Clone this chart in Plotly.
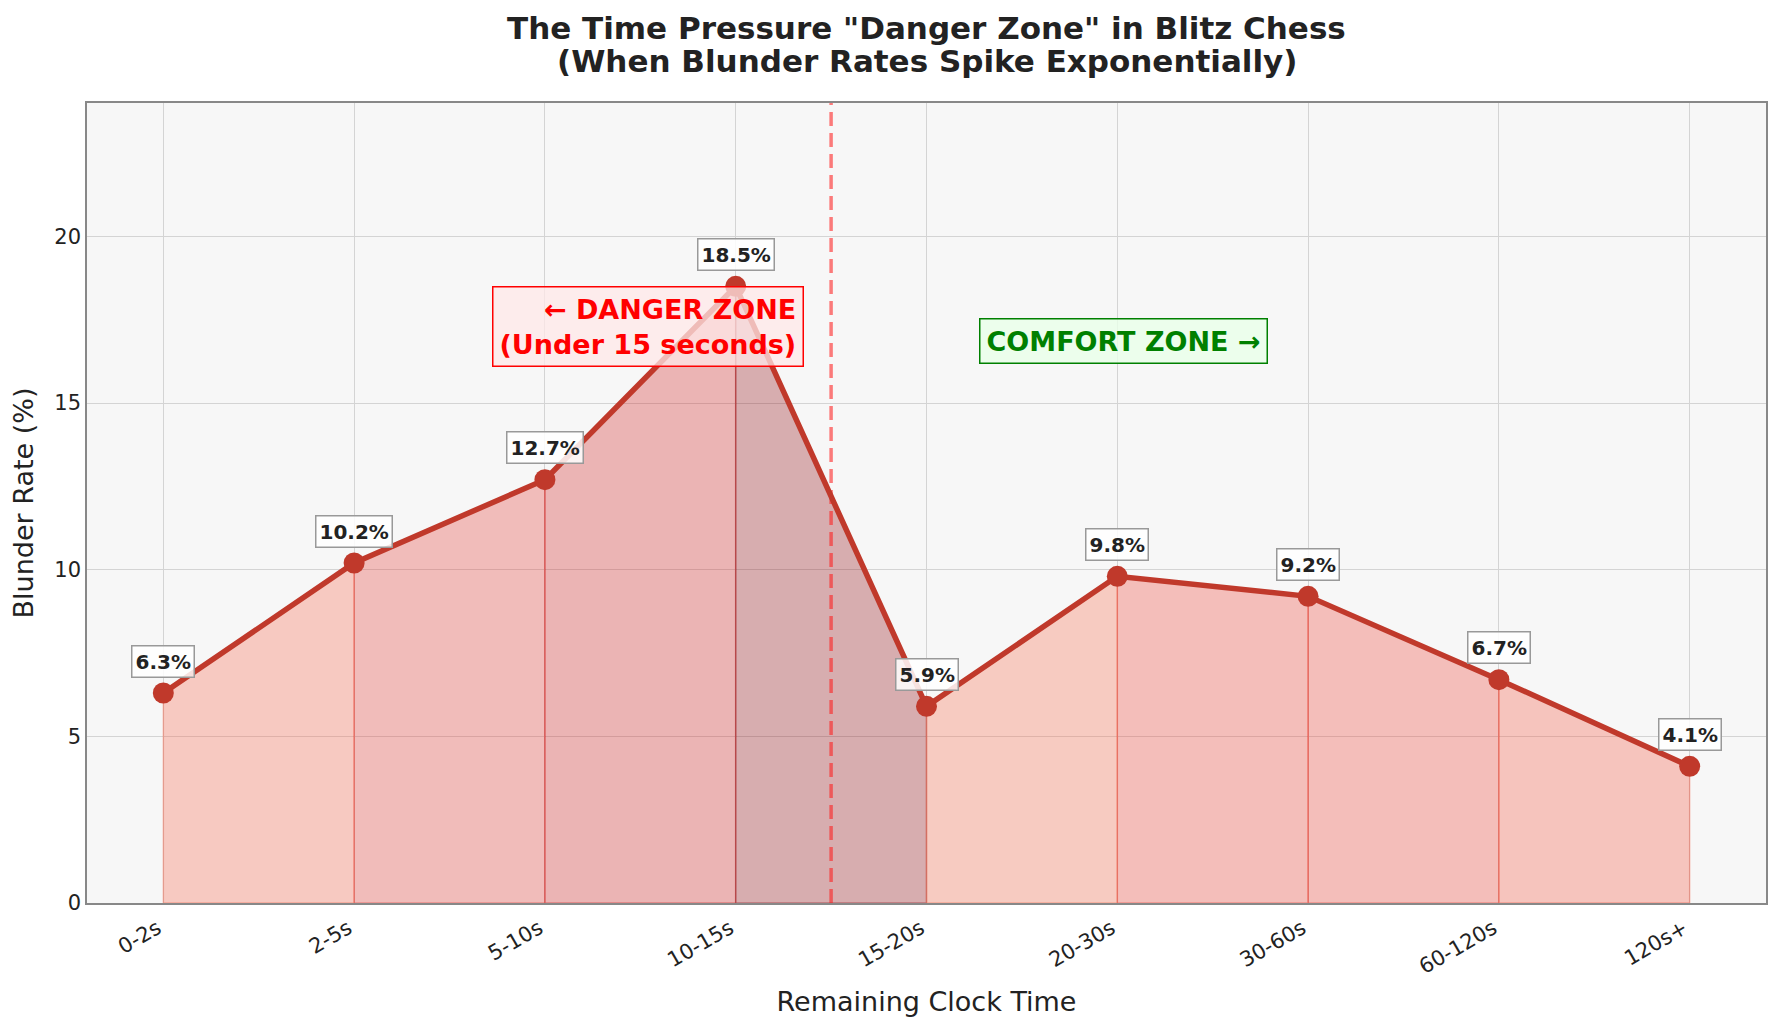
import plotly.graph_objects as go

# Data
time_buckets = ['0-2s', '2-5s', '5-10s', '10-15s', '15-20s', '20-30s', '30-60s', '60-120s', '120s+']
blunder_rate = [6.3, 10.2, 12.7, 18.5, 5.9, 9.8, 9.2, 6.7, 4.1]
danger_cutoff = 3.5  # between "10-15s" and "15-20s"

# per-segment fill colours (alpha applied below)
segment_colors = [(247, 97, 70), (230, 54, 47), (207, 27, 27), (144, 4, 10),
                  (250, 104, 71), (237, 61, 46), (237, 61, 46), (244, 80, 57)]

xs = list(range(len(time_buckets)))
font = "DejaVu Sans"

fig = go.Figure()

# filled segments under the curve
for i in range(len(xs) - 1):
    r, g, b = segment_colors[i]
    fig.add_trace(go.Scatter(
        x=[xs[i], xs[i], xs[i + 1], xs[i + 1], xs[i]],
        y=[0, blunder_rate[i], blunder_rate[i + 1], 0, 0],
        mode='lines',
        fill='toself',
        fillcolor=f'rgba({r},{g},{b},0.3)',
        line=dict(color=f'rgba({r},{g},{b},0.35)', width=1.5),
        hoverinfo='skip',
        showlegend=False,
    ))

# danger zone boundary
fig.add_trace(go.Scatter(
    x=[danger_cutoff, danger_cutoff], y=[0, 24],
    mode='lines',
    line=dict(color='rgba(255,20,20,0.55)', width=3.5, dash='14px,7px'),
    hoverinfo='skip', showlegend=False,
))

# main line
fig.add_trace(go.Scatter(
    x=xs, y=blunder_rate,
    mode='lines+markers',
    line=dict(color='#C0392B', width=5.5),
    marker=dict(color='#C0392B', size=21),
    showlegend=False,
))

# value labels
for x, v in zip(xs, blunder_rate):
    fig.add_annotation(
        x=x, y=v, text=f'<b>{v}%</b>', showarrow=False, yshift=32,
        font=dict(family=font, size=20, color='#222222'),
        bgcolor='rgba(255,255,255,0.85)', bordercolor='#999999',
        borderwidth=1.5, borderpad=3,
    )

fig.add_annotation(
    x=3.36, y=17.3, xanchor='right', yanchor='middle',
    text='<b>← DANGER ZONE<br>(Under 15 seconds)</b>', align='right', showarrow=False,
    font=dict(family=font, size=27, color='#FF0000'),
    bgcolor='rgba(255,232,232,0.75)', bordercolor='#FF0000', borderwidth=1.5, borderpad=6,
)
fig.add_annotation(
    x=5.03, y=16.85, xanchor='center', yanchor='middle',
    text='<b>COMFORT ZONE →</b>', showarrow=False,
    font=dict(family=font, size=27, color='#008000'),
    bgcolor='rgba(232,255,232,0.8)', bordercolor='#008000', borderwidth=1.5, borderpad=6,
)

# two-line title, placed as annotations to control line spacing
title_lines = ['The Time Pressure "Danger Zone" in Blitz Chess',
               '(When Blunder Rates Spike Exponentially)']
for line, shift in zip(title_lines, [75, 42]):
    fig.add_annotation(
        x=0.5, y=1, xref='paper', yref='paper', xanchor='center', yanchor='middle',
        yshift=shift, text=f'<b>{line}</b>', showarrow=False,
        font=dict(family=font, size=31, color='#222222'),
    )

fig.update_layout(
    width=1779, height=1027,
    margin=dict(l=79, r=21, t=95, b=132),
    paper_bgcolor='white',
    plot_bgcolor='#F7F7F7',
    font=dict(family=font, color='#222222'),
    xaxis=dict(
        range=[-0.4, 8.4],
        tickvals=xs, ticktext=[t + '\u00a0' for t in time_buckets], tickangle=-30,
        tickfont=dict(size=21, color='#222222'),
        title=dict(text='Remaining Clock Time', font=dict(size=27), standoff=14),
        showgrid=True, gridcolor='#D4D4D4', gridwidth=1.3,
        showline=True, mirror=True, linecolor='#888888', linewidth=1.5,
        zeroline=False, ticks='',
    ),
    yaxis=dict(
        range=[0, 24],
        tickvals=[0, 5, 10, 15, 20],
        tickfont=dict(size=21, color='#222222'),
        title=dict(text='Blunder Rate (%)', font=dict(size=27), standoff=14),
        showgrid=True, gridcolor='#D4D4D4', gridwidth=1.3,
        showline=True, mirror=True, linecolor='#888888', linewidth=1.5,
        zeroline=False, ticks='',
    ),
)

fig.write_html("out.html")
